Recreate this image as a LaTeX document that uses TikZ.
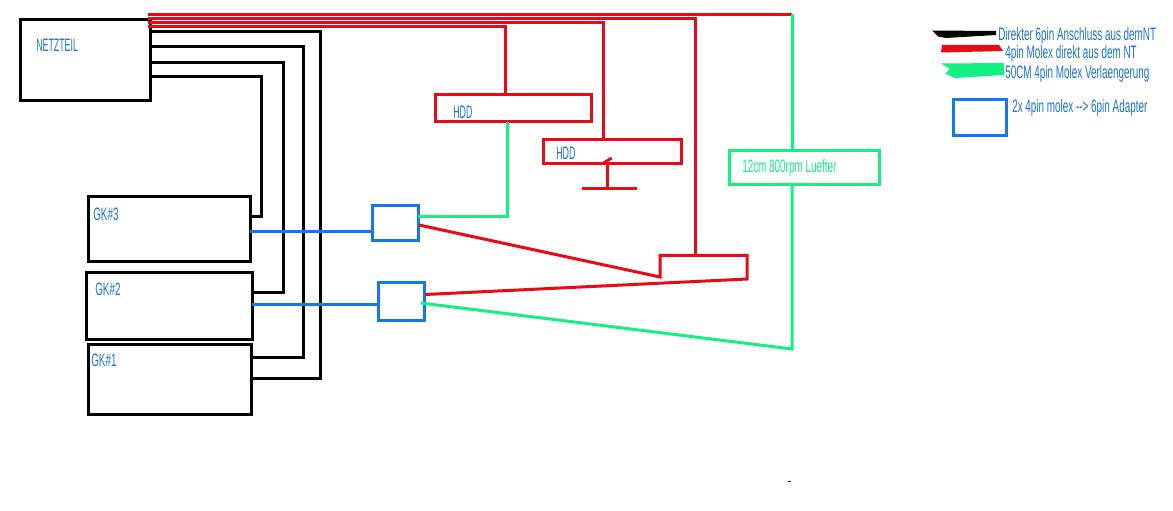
\documentclass[tikz,border=0pt]{standalone}
\usepackage{fontspec}
\setmainfont{Liberation Sans}
\newfontfamily\narrowf[FakeStretch=0.55]{Liberation Sans}
\newfontfamily\narrowerf[FakeStretch=0.49]{Liberation Sans}
\usetikzlibrary{fit,calc}
\definecolor{cblue}{RGB}{20,120,235}
\definecolor{tblue}{RGB}{30,115,210}
\definecolor{cred}{RGB}{232,10,20}
\definecolor{cgreen}{RGB}{20,240,130}
\tikzset{
 boxnode/.style={draw,inner sep=0pt,outer sep=0pt},
 bkbox/.style={boxnode,draw=black,line width=2.25pt},
 blbox/.style={boxnode,draw=cblue,line width=2.25pt},
 rdbox/.style={boxnode,draw=cred,line width=2.25pt},
 grbox/.style={boxnode,draw=cgreen,line width=2.25pt},
 bkline/.style={draw=black,line width=2.25pt,line join=miter},
 blline/.style={draw=cblue,line width=2.25pt},
 rdline/.style={draw=cred,line width=2.25pt,line join=miter},
 grline/.style={draw=cgreen,line width=2.25pt,line join=miter},
 lbl/.style={anchor=west,inner sep=0pt,font=\narrowf\fontsize{13.5pt}{14pt}\selectfont,text=tblue},
 lbln/.style={anchor=west,inner sep=0pt,font=\narrowerf\fontsize{13.5pt}{14pt}\selectfont,text=tblue},
}
\begin{document}
\begin{tikzpicture}[x=0.75pt,y=-0.75pt]
\useasboundingbox (0,0) rectangle (1173,510);
\fill[white] (0,0) rectangle (1173,510);
% boxes
\node (nt) [bkbox,fit={(20,19.5)(150,100)}] {};
\node (gk3) [bkbox,fit={(88,196)(250,261)}] {};
\node (gk2) [bkbox,fit={(86,272)(252.3,339.7)}] {};
\node (gk1) [bkbox,fit={(88,344)(251.3,414)}] {};
\node (ad1) [blbox,fit={(372,205)(418.3,240.7)}] {};
\node (ad2) [blbox,fit={(378,282)(424.3,320.7)}] {};
\node (hdd1) [rdbox,fit={(435,94)(591.3,121.7)}] {};
\node (hdd2) [rdbox,fit={(543,139.5)(681.3,163.5)}] {};
\node (fan) [grbox,fit={(729,150)(879,184)}] {};
\node (legad) [blbox,fit={(953,99)(1006,135.7)}] {};
% bend coordinates
\coordinate (a1) at (320.5,31.5); \coordinate (a2) at (320.5,378);
\coordinate (b1) at (303.5,46.7); \coordinate (b2) at (303.5,357);
\coordinate (c1) at (283,63);   \coordinate (c2) at (283,292);
\coordinate (d1) at (261.5,77);   \coordinate (d2) at (261.5,216.7);
% black power lines
\draw[bkline] (nt.east |- a1) -- (a1) -- (a2) -- (gk1.east |- a2);
\draw[bkline] (nt.east |- b1) -- (b1) -- (b2) -- (gk1.east |- b2);
\draw[bkline] (nt.east |- c1) -- (c1) -- (c2) -- (gk2.east |- c2);
\draw[bkline] (nt.east |- d1) -- (d1) -- (d2) -- (gk3.east |- d2);
% blue adapters
\coordinate (e1) at (250,231); \coordinate (e2) at (252,304.3);
\draw[blline] (e1) -- (ad1.west |- e1);
\draw[blline] (e2) -- (ad2.west |- e2);
% red trunk
\coordinate (r0) at (148,14.5);  \coordinate (r0e) at (792,14.5);
\coordinate (r1) at (148,18.5);  \coordinate (r1e) at (695,18.5);
\coordinate (r2) at (148,22.5);  \coordinate (r2e) at (603,22.5);
\coordinate (r3) at (148,26.5);  \coordinate (r3e) at (505.7,26.5);
\coordinate (s1) at (660,255.3); \coordinate (s2) at (747.2,255.3);
\coordinate (s3) at (660,277);   \coordinate (s4) at (747.2,279);
\coordinate (t1) at (419,225);   \coordinate (t2) at (425,294.5);
\draw[rdline] (r0) -- (r0e);
\draw[rdline] (r1) -- (r1e) -- (r1e |- s1);
\draw[rdline] (r2) -- (r2e) -- (r2e |- hdd2.north);
\draw[rdline] (r3) -- (r3e) -- (r3e |- hdd1.north);
\draw[rdline] (t1) -- (s3) -- (s1) -- (s2) -- (s4) -- (t2);
% hdd2 stub
\coordinate (u1) at (607.7,163); \coordinate (u2) at (607.7,188);
\coordinate (u3) at (581.7,188); \coordinate (u4) at (636.7,188);
\coordinate (u5) at (604,162.7); \coordinate (u6) at (611.7,158);
\draw[rdline] (u1) -- (u2);
\draw[rdline] (u3) -- (u4);
\draw[rdline] (u5) -- (u6);
% green lines
\coordinate (g1) at (792,14.5); \coordinate (g2) at (792,349);
\coordinate (g3) at (420.7,303); \coordinate (g4) at (507,216);
\draw[grline] (g1) -- (g1 |- fan.north);
\draw[grline] (g1 |- fan.south) -- (g2) -- (g3);
\draw[grline] (507,122) -- (g4) -- (ad1.east |- g4);
% legend strokes
\fill[black] (932,30.5) -- (996,31) -- (996,35) -- (946,38) -- (938,36.5) -- cycle;
\fill[cred] (942,45) -- (999,45) -- (1003,51) -- (941,52.5) -- cycle;
\fill[cgreen] (941,63.5) -- (1004,63) -- (1004,75) -- (955,78) -- (945,73.5) -- (950,69) -- cycle;
% small dot
\fill[black] (788,480.5) rectangle (790.5,482);
% labels
\node (tnt) [lbln] at (36,45) {NETZTEIL};
\node (tg3) [lbl] at (93,214) {GK\#3};
\node (tg2) [lbl] at (95,289) {GK\#2};
\node (tg1) [lbl] at (91,360) {GK\#1};
\node (th1) [lbln] at (453,112) {HDD};
\node (th2) [lbln] at (556,153) {HDD};
\node (tfan) [lbl,text=cgreen] at (742,168) {12cm 800rpm Luefter};
\node (tl1) [lbl] at (998,36) {Direkter 6pin Anschluss aus demNT};
\node (tl2) [lbl] at (1005,54) {4pin Molex direkt aus dem NT};
\node (tl3) [lbl] at (1005,74) {50CM 4pin Molex Verlaengerung};
\node (tl4) [lbl] at (1012,108) {2x 4pin molex --{}> 6pin Adapter};
\end{tikzpicture}
\end{document}
